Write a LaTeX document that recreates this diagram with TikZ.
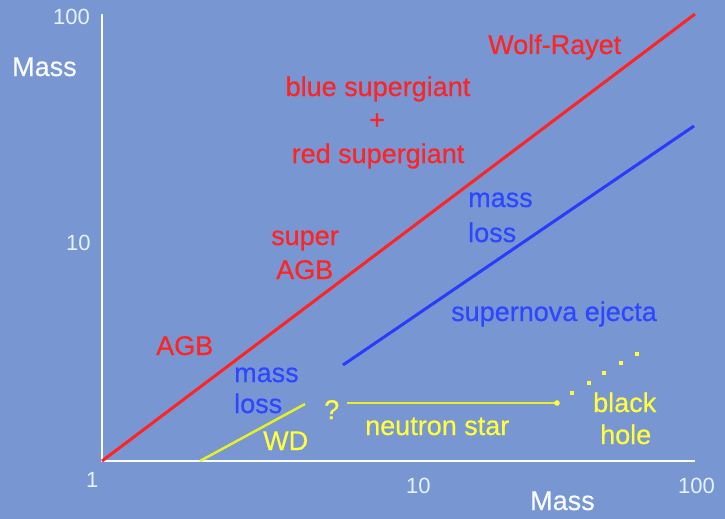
\documentclass[tikz,border=0pt]{standalone}
\usepackage{fontspec}
\setmainfont{Liberation Sans}
\newfontfamily\lblfont[FakeBold=0.5]{Liberation Sans}
\definecolor{bg}{RGB}{120,150,210}
\definecolor{axiscol}{RGB}{250,252,255}
\definecolor{ticktxt}{RGB}{230,242,252}
\definecolor{redc}{RGB}{255,35,35}
\definecolor{bluec}{RGB}{40,60,250}
\definecolor{bluet}{RGB}{45,70,255}
\definecolor{yellowc}{RGB}{230,240,40}
\definecolor{yellowt}{RGB}{255,255,60}
\begin{document}
\begin{tikzpicture}[x=1pt,y=-1pt,
  lbl/.style={inner sep=0pt,anchor=base west,font=\lblfont\fontsize{27}{30}\selectfont},
  lblc/.style={inner sep=0pt,anchor=base,font=\lblfont\fontsize{27}{30}\selectfont},
  tick/.style={inner sep=0pt,anchor=base west,text=ticktxt,font=\fontsize{22}{24}\selectfont},
  redlbl/.style={text=redc},
  bluelbl/.style={text=bluet},
  yellbl/.style={text=yellowt},
  axisline/.style={draw=axiscol,line width=2.5pt},
  dotstyle/.style={fill=yellowt,draw=none}]
\fill[bg] (0,0) rectangle (725,519);
\useasboundingbox (0,0) rectangle (725,519);
% coordinates
\coordinate (o) at (102,461);
\coordinate (ytop) at (102,14);
\coordinate (xend) at (695,461);
\coordinate (rtop) at (695,14);
\coordinate (bstart) at (343,365);
\coordinate (bend) at (694,126);
\coordinate (wdstart) at (200,461);
\coordinate (wdend) at (305,404);
\coordinate (nsstart) at (347,403);
\coordinate (nsend) at (557,403);
% axes
\draw[axisline] (ytop) -- (o) -- (xend);
% lines
\draw[redc,line width=3pt] (o) -- (rtop);
\draw[bluec,line width=3pt] (bstart) -- (bend);
\draw[yellowc,line width=2.5pt] (wdstart) -- (wdend);
\draw[yellowc,line width=2.5pt] (nsstart) -- (nsend);
\fill[dotstyle] (nsend) circle (2.8);
\foreach \px/\py in {572/393,589/383,604/373,621/363,637/354}
  \fill[dotstyle] (\px-2.4,\py-2.4) rectangle (\px+2.4,\py+2.4);
% tick labels
\node[tick] (t100y) at (53,25) {100};
\node[tick] (t10y) at (66,250) {10};
\node[tick] (t1) at (86,487) {1};
\node[tick] (t10x) at (406,493) {10};
\node[tick] (t100x) at (678,493) {100};
\node[lbl,text=axiscol] (massy) at (12,76) {Mass};
\node[lbl,text=axiscol] (massx) at (530,510) {Mass};
% red labels
\node[lbl,redlbl] (wr) at (488,54) {Wolf-Rayet};
\node[lblc,redlbl] (bsg) at (378,96) {blue supergiant};
\node[lblc,redlbl] (plus) at (377,129) {+};
\node[lblc,redlbl] (rsg) at (378,163) {red supergiant};
\node[lbl,redlbl] (super) at (271,245) {super};
\node[lbl,redlbl] (sagb) at (276,279) {AGB};
\node[lbl,redlbl] (agb) at (156,355) {AGB};
% blue labels
\node[lbl,bluelbl] (ml1) at (468,207) {mass};
\node[lbl,bluelbl] (ll1) at (468,242) {loss};
\node[lbl,bluelbl] (sne) at (451,321) {supernova ejecta};
\node[lbl,bluelbl] (ml2) at (234,382) {mass};
\node[lbl,bluelbl] (ll2) at (234,413) {loss};
% yellow labels
\node[lbl,yellbl] (q) at (324,419) {?};
\node[lbl,yellbl] (ns) at (365,435) {neutron star};
\node[lbl,yellbl] (bl) at (593,412) {black};
\node[lbl,yellbl] (hole) at (600,444) {hole};
\node[lbl,yellbl] (wd) at (263,450) {WD};
\end{tikzpicture}
\end{document}
